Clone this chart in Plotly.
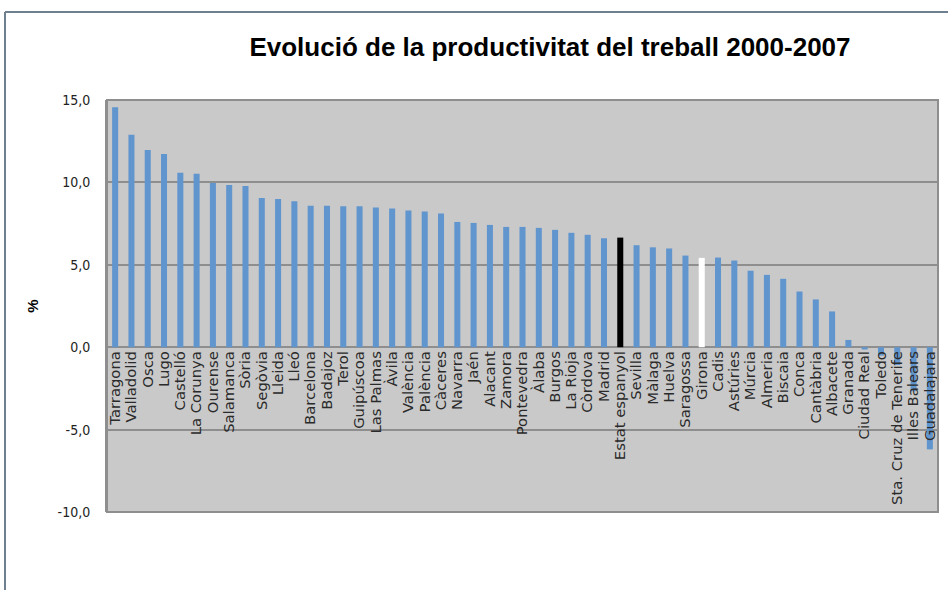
import plotly.graph_objects as go

categories = ["Tarragona", "Valladolid", "Osca", "Lugo", "Castelló", "La Corunya", "Ourense",
              "Salamanca", "Sòria", "Segòvia", "Lleida", "Lleó", "Barcelona", "Badajoz", "Terol",
              "Guipúscoa", "Las Palmas", "Àvila", "València", "Palència", "Càceres", "Navarra",
              "Jaén", "Alacant", "Zamora", "Pontevedra", "Àlaba", "Burgos", "La Rioja", "Còrdova",
              "Madrid", "Estat espanyol", "Sevilla", "Màlaga", "Huelva", "Saragossa", "Girona",
              "Cadis", "Astúries", "Múrcia", "Almeria", "Biscaia", "Conca", "Cantàbria",
              "Albacete", "Granada", "Ciudad Real", "Toledo", "Sta. Cruz de Tenerife",
              "Illes Balears", "Guadalajara"]

values = [14.56, 12.89, 11.96, 11.72, 10.59, 10.53, 9.96, 9.84, 9.78, 9.06, 9.0, 8.85, 8.59,
          8.59, 8.55, 8.55, 8.48, 8.41, 8.29, 8.23, 8.11, 7.60, 7.54, 7.42, 7.30, 7.30, 7.24,
          7.12, 6.94, 6.82, 6.61, 6.65, 6.19, 6.06, 5.99, 5.56, 5.42, 5.44, 5.26, 4.64, 4.39,
          4.15, 3.38, 2.90, 2.17, 0.44, -0.14, -0.51, -1.08, -2.67, -6.2]

y_ticks = [-10, -5, 0, 5, 10, 15]
y_ticktext = ["-10,0", "-5,0", "0,0", "5,0", "10,0", "15,0"]

title_text = "Evolució de la productivitat del treball 2000-2007"

bar_blue = "#6195CE"
colors = []
for c in categories:
    if c == "Estat espanyol":
        colors.append("#000000")
    elif c == "Girona":
        colors.append("#FFFFFF")
    else:
        colors.append(bar_blue)

fig = go.Figure()
fig.add_trace(go.Bar(x=categories, y=values, marker=dict(color=colors, line=dict(width=0)),
                     showlegend=False))

grid_col = "#8E8E8E"
frame_col = "#6E7F90"
fig.update_layout(
    width=948, height=590,
    margin=dict(l=107, r=10, t=100, b=78),
    paper_bgcolor="white",
    plot_bgcolor="#C9C9C9",
    bargap=0.63,
    title=dict(text="<b>" + title_text + "</b>", x=550 / 948, xanchor="center",
               y=1 - 47 / 590, yanchor="middle",
               font=dict(family="Liberation Sans, Arial", size=26, color="#000000")),
    xaxis=dict(anchor="free", position=0.4, showline=False, showgrid=False, zeroline=False,
               tickmode="array", tickvals=categories, ticktext=categories,
               tickangle=-90, ticks="", ticklen=0,
               tickfont=dict(family="DejaVu Sans", size=14.8, color="#2A2A2A"),
               range=[-0.5, len(categories) - 0.5]),
    yaxis=dict(range=[-10, 15], tickvals=y_ticks, ticktext=y_ticktext, showgrid=True,
               gridcolor=grid_col, gridwidth=1.5, zeroline=True, zerolinecolor=grid_col,
               zerolinewidth=1.5, showline=True, linecolor=grid_col, linewidth=2, ticks="",
               ticklabelstandoff=12,
               tickfont=dict(family="DejaVu Sans Condensed, DejaVu Sans", size=14, color="#222222"),
               title=dict(text="<b>%</b>", font=dict(family="Liberation Sans", size=15, color="#000000"),
                          standoff=15)),
    shapes=[
        dict(type="rect", xref="paper", yref="paper", x0=0, x1=1, y0=0, y1=1,
             line=dict(color=grid_col, width=2), layer="above"),
        dict(type="line", xref="paper", yref="paper", x0=(5 - 107) / 831, x1=(948 - 107) / 831,
             y0=1 + 88 / 412, y1=1 + 88 / 412, line=dict(color=frame_col, width=2)),
        dict(type="line", xref="paper", yref="paper", x0=(5 - 107) / 831, x1=(5 - 107) / 831,
             y0=1 + 88 / 412, y1=(512 - 590) / 412, line=dict(color=frame_col, width=2)),
    ],
)

fig.write_html("out.html", config={"displayModeBar": False},
               post_script="document.body.style.margin='0';")
